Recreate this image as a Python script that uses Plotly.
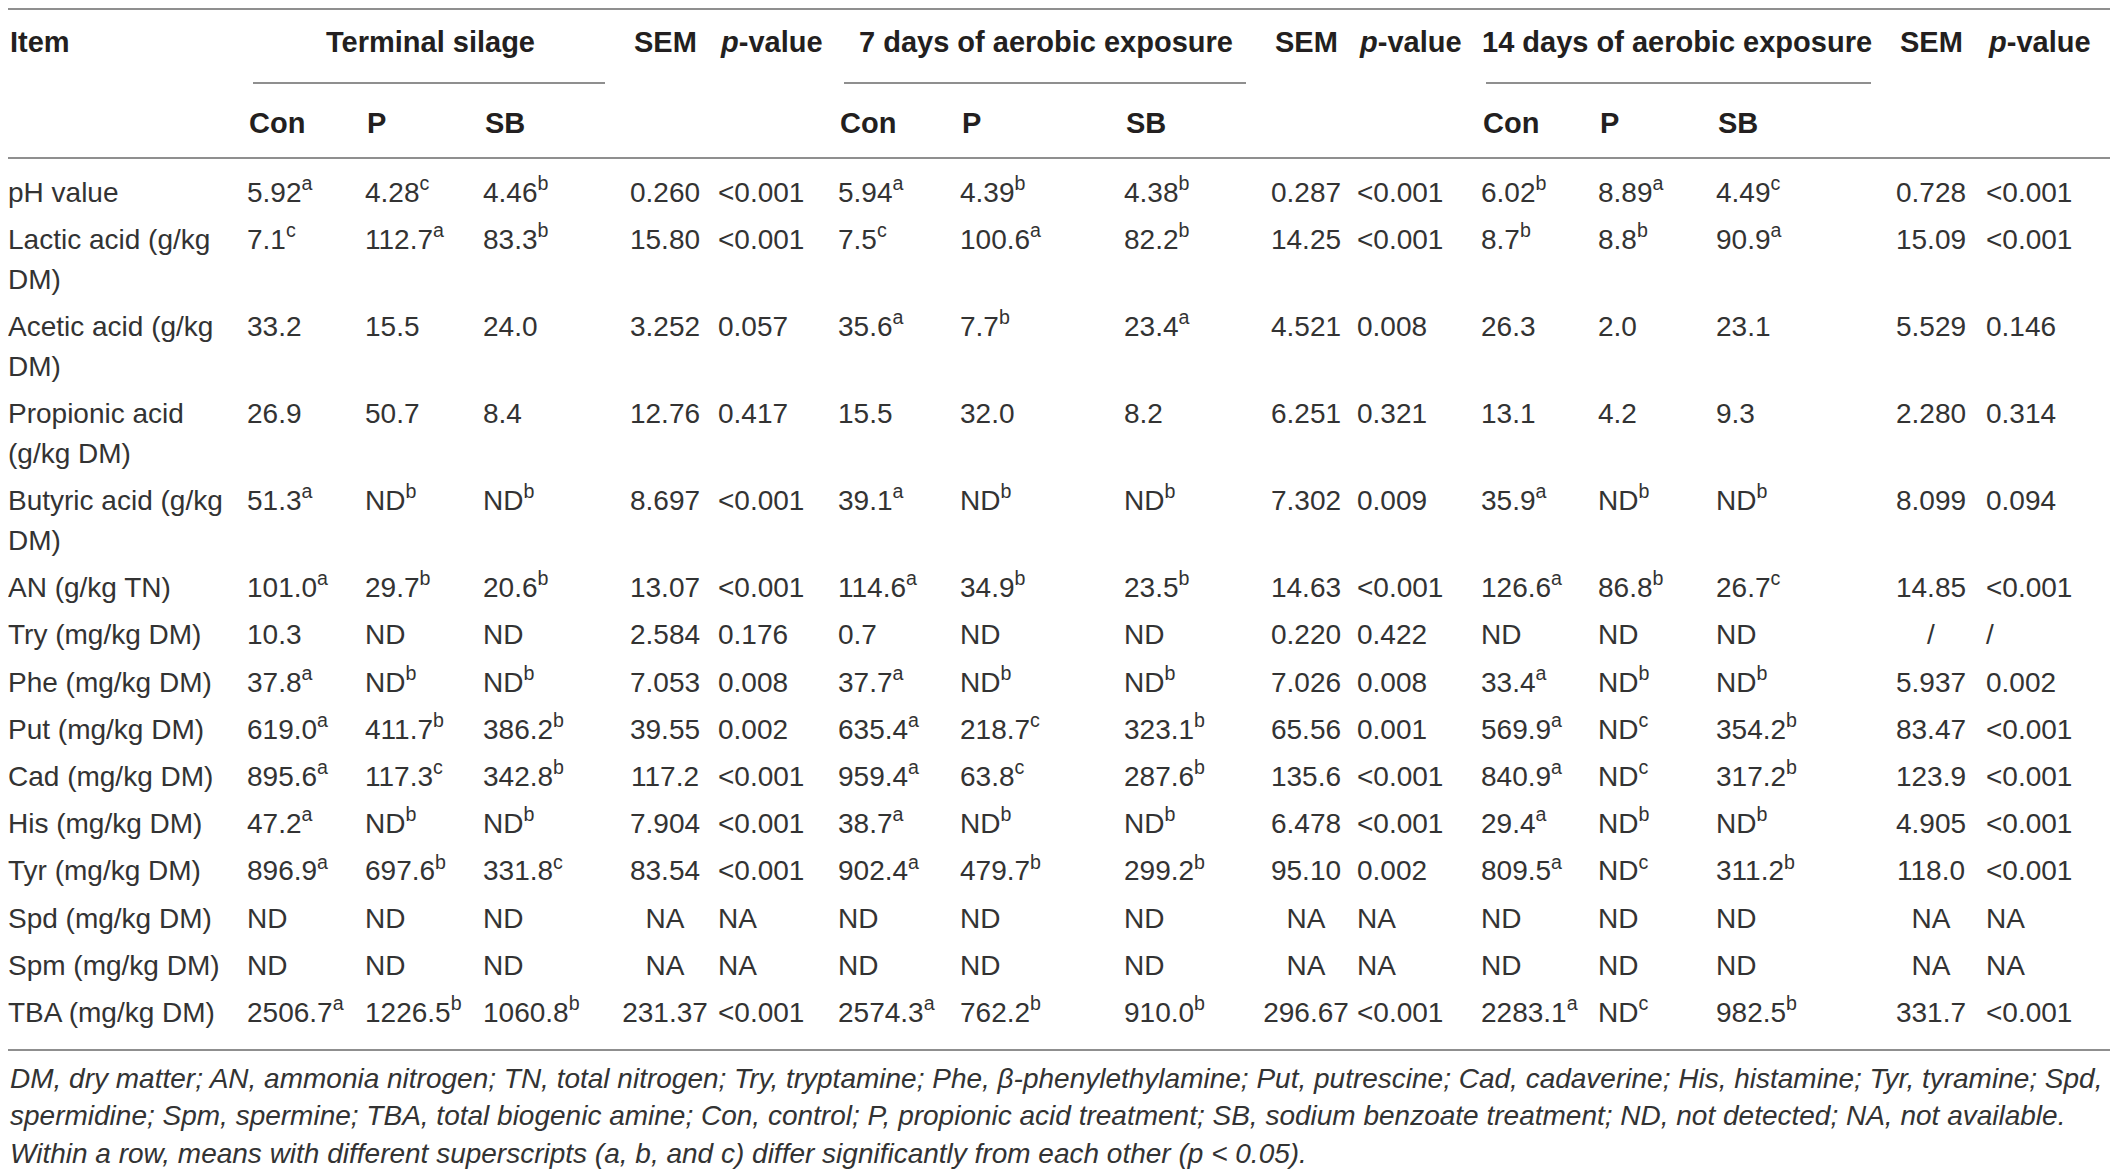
import plotly.graph_objects as go

# row labels (\n marks where the reference wraps the label)
items = ["pH value", "Lactic acid (g/kg\nDM)", "Acetic acid (g/kg\nDM)",
         "Propionic acid\n(g/kg DM)", "Butyric acid (g/kg\nDM)", "AN (g/kg TN)",
         "Try (mg/kg DM)", "Phe (mg/kg DM)", "Put (mg/kg DM)", "Cad (mg/kg DM)",
         "His (mg/kg DM)", "Tyr (mg/kg DM)", "Spd (mg/kg DM)", "Spm (mg/kg DM)",
         "TBA (mg/kg DM)"]

# terminal silage
ts_con = ["5.92^a", "7.1^c", "33.2", "26.9", "51.3^a", "101.0^a", "10.3", "37.8^a",
          "619.0^a", "895.6^a", "47.2^a", "896.9^a", "ND", "ND", "2506.7^a"]
ts_p = ["4.28^c", "112.7^a", "15.5", "50.7", "ND^b", "29.7^b", "ND", "ND^b",
        "411.7^b", "117.3^c", "ND^b", "697.6^b", "ND", "ND", "1226.5^b"]
ts_sb = ["4.46^b", "83.3^b", "24.0", "8.4", "ND^b", "20.6^b", "ND", "ND^b",
         "386.2^b", "342.8^b", "ND^b", "331.8^c", "ND", "ND", "1060.8^b"]
ts_sem = ["0.260", "15.80", "3.252", "12.76", "8.697", "13.07", "2.584", "7.053",
          "39.55", "117.2", "7.904", "83.54", "NA", "NA", "231.37"]
ts_pval = ["<0.001", "<0.001", "0.057", "0.417", "<0.001", "<0.001", "0.176", "0.008",
           "0.002", "<0.001", "<0.001", "<0.001", "NA", "NA", "<0.001"]

# 7 days of aerobic exposure
d7_con = ["5.94^a", "7.5^c", "35.6^a", "15.5", "39.1^a", "114.6^a", "0.7", "37.7^a",
          "635.4^a", "959.4^a", "38.7^a", "902.4^a", "ND", "ND", "2574.3^a"]
d7_p = ["4.39^b", "100.6^a", "7.7^b", "32.0", "ND^b", "34.9^b", "ND", "ND^b",
        "218.7^c", "63.8^c", "ND^b", "479.7^b", "ND", "ND", "762.2^b"]
d7_sb = ["4.38^b", "82.2^b", "23.4^a", "8.2", "ND^b", "23.5^b", "ND", "ND^b",
         "323.1^b", "287.6^b", "ND^b", "299.2^b", "ND", "ND", "910.0^b"]
d7_sem = ["0.287", "14.25", "4.521", "6.251", "7.302", "14.63", "0.220", "7.026",
          "65.56", "135.6", "6.478", "95.10", "NA", "NA", "296.67"]
d7_pval = ["<0.001", "<0.001", "0.008", "0.321", "0.009", "<0.001", "0.422", "0.008",
           "0.001", "<0.001", "<0.001", "0.002", "NA", "NA", "<0.001"]

# 14 days of aerobic exposure
d14_con = ["6.02^b", "8.7^b", "26.3", "13.1", "35.9^a", "126.6^a", "ND", "33.4^a",
           "569.9^a", "840.9^a", "29.4^a", "809.5^a", "ND", "ND", "2283.1^a"]
d14_p = ["8.89^a", "8.8^b", "2.0", "4.2", "ND^b", "86.8^b", "ND", "ND^b",
         "ND^c", "ND^c", "ND^b", "ND^c", "ND", "ND", "ND^c"]
d14_sb = ["4.49^c", "90.9^a", "23.1", "9.3", "ND^b", "26.7^c", "ND", "ND^b",
          "354.2^b", "317.2^b", "ND^b", "311.2^b", "ND", "ND", "982.5^b"]
d14_sem = ["0.728", "15.09", "5.529", "2.280", "8.099", "14.85", "/", "5.937",
           "83.47", "123.9", "4.905", "118.0", "NA", "NA", "331.7"]
d14_pval = ["<0.001", "<0.001", "0.146", "0.314", "0.094", "<0.001", "/", "0.002",
            "<0.001", "<0.001", "<0.001", "<0.001", "NA", "NA", "<0.001"]

groups = ["Terminal silage", "7 days of aerobic exposure", "14 days of aerobic exposure"]
treatments = ["Con", "P", "SB"]

notes = [
    "DM, dry matter; AN, ammonia nitrogen; TN, total nitrogen; Try, tryptamine; Phe, β-phenylethylamine; "
    "Put, putrescine; Cad, cadaverine; His, histamine; Tyr, tyramine; Spd,",
    "spermidine; Spm, spermine; TBA, total biogenic amine; Con, control; P, propionic acid treatment; "
    "SB, sodium benzoate treatment; ND, not detected; NA, not available.",
    "Within a row, means with different superscripts (a, b, and c) differ significantly from each other (p < 0.05).",
]

# the page body has an 8px margin, so the figure is 8px smaller and the
# axes start at 8: one axis unit is then one pixel of the window
W, H = 2118, 1173
OFF = 8
FONT = "Liberation Sans"
TXT = "#333333"
RULE = "#8f8f8f"
BODY = 28
HEAD = 29
LEFT = 8


def sup(s):
    if "^" in s:
        v, l = s.split("^")
        return f"{v}<sup>{l}</sup>"
    return s


# vertical position of each row's first line
row_y = []
y = 195
for it in items:
    row_y.append(y)
    y += 47.2 + 39.8 * (len(it.split("\n")) - 1)

fig = go.Figure()


def text_col(xs, ys, vals, pos="middle right"):
    fig.add_trace(go.Scatter(
        x=xs, y=ys, mode="text", text=vals, textposition=pos,
        textfont=dict(family=FONT, size=BODY, color=TXT),
        cliponaxis=False, hoverinfo="skip", showlegend=False))


# item labels, first and second lines
text_col([LEFT] * len(items), row_y, [it.split("\n")[0] for it in items])
second_y = [yy + 40 for yy, it in zip(row_y, items) if "\n" in it]
second = [it.split("\n")[1] for it in items if "\n" in it]
text_col([LEFT] * len(second), second_y, second)

blocks = [
    (ts_con, ts_p, ts_sb, ts_sem, ts_pval),
    (d7_con, d7_p, d7_sb, d7_sem, d7_pval),
    (d14_con, d14_p, d14_sb, d14_sem, d14_pval),
]
treat_x = [[247, 365, 483], [838, 960, 1124], [1481, 1598, 1716]]
sem_x = [665, 1306, 1931]
pval_x = [718, 1357, 1986]
group_x = [430, 1046, 1677]
rule_x = [(253, 605), (844, 1246), (1486, 1871)]

ann = []


def head(x, y, text, anchor="left"):
    ann.append(dict(x=x, y=y, xref="x", yref="y", text=text, showarrow=False,
                    xanchor=anchor, yanchor="middle",
                    font=dict(family=FONT, size=HEAD, color="#231f20")))


head(LEFT, 42, "<b>Item</b>")
for g, blk in enumerate(blocks):
    for t in range(3):
        text_col([treat_x[g][t]] * len(row_y), row_y, [sup(v) for v in blk[t]])
        head(treat_x[g][t], 123, f"<b>{treatments[t]}</b>")
    text_col([sem_x[g]] * len(row_y), row_y, blk[3], "middle center")
    text_col([pval_x[g]] * len(row_y), row_y, blk[4])
    head(group_x[g], 42, f"<b>{groups[g]}</b>", "center")
    head(sem_x[g], 42, "<b>SEM</b>", "center")
    head(pval_x[g], 42, "<b><i>p</i>-value</b>")

for i, line in enumerate(notes):
    ann.append(dict(x=LEFT, y=1078 + 37.5 * i, xref="x", yref="y", text=f"<i>{line}</i>",
                    showarrow=False, xanchor="left", yanchor="middle",
                    font=dict(family=FONT, size=28, color=TXT)))

shapes = [dict(type="line", xref="x", yref="y", x0=OFF, x1=2111, y0=yy, y1=yy,
               line=dict(color=RULE, width=2)) for yy in (OFF + 1, 158, 1050)]
for x0, x1 in rule_x:
    shapes.append(dict(type="line", xref="x", yref="y", x0=x0, x1=x1, y0=83, y1=83,
                       line=dict(color=RULE, width=2)))

fig.update_layout(
    width=W - OFF, height=H - OFF, margin=dict(l=0, r=0, t=0, b=0),
    paper_bgcolor="white", plot_bgcolor="white",
    xaxis=dict(range=[OFF, W], visible=False, fixedrange=True),
    yaxis=dict(range=[H, OFF], visible=False, fixedrange=True),
    annotations=ann, shapes=shapes,
)

fig.write_html("out.html")
